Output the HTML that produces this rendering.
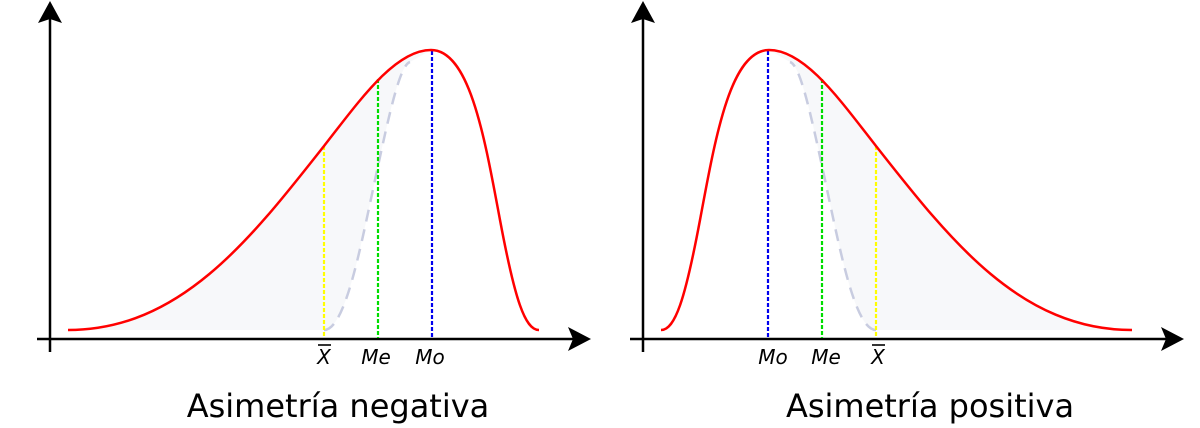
<!DOCTYPE html>
<html><head><style>body{margin:0;background:#fff}svg{display:block}</style></head><body>
<svg width="1200" height="428" viewBox="0 0 1200 428" xmlns="http://www.w3.org/2000/svg" font-family="'DejaVu Sans','Liberation Sans',sans-serif">
<defs>
<g id="curve">
<path d="M68,330 C180,330 250,240 324,146 C360,100 395,50 431,50 L410,62 C400,65 390,110 375,180 C360,250 345,330 324,330 Z" fill="#f7f8fa"/>
<path d="M324,330 C345,330 360,250 375,180 C390,110 400,65 410,62" fill="none" stroke="#c8cce0" stroke-width="2.5" stroke-dasharray="12,8"/>
<line x1="324" y1="146" x2="324" y2="338" stroke="#ffff00" stroke-width="2.2" stroke-dasharray="4,2"/>
<line x1="378" y1="79" x2="378" y2="338" stroke="#00dd00" stroke-width="2.2" stroke-dasharray="4,2"/>
<line x1="432" y1="51" x2="432" y2="338" stroke="#0000ee" stroke-width="2.2" stroke-dasharray="4,2"/>
<path d="M68,330 C180,330 250,240 324,146 C360,100 395,50 431,50 C470,50 485,140 500,220 C515,300 525,330 539,330" fill="none" stroke="#ff0000" stroke-width="2.5"/>
</g>
<g id="axes">
<line x1="50" y1="18" x2="50" y2="352" stroke="#000" stroke-width="2.5"/>
<line x1="37" y1="339" x2="575" y2="339" stroke="#000" stroke-width="2.5"/>
<path d="M50,1 L62,23 L50,19 L38,23 Z" fill="#000"/>
<path d="M591,339 L568,327 L573,339 L568,351 Z" fill="#000"/>
</g>
</defs>
<use href="#axes"/>
<use href="#axes" transform="translate(593,0)"/>
<use href="#curve"/>
<use href="#curve" transform="translate(1200,0) scale(-1,1)"/>
<g font-size="20" font-style="italic" fill="#000" text-anchor="middle">
<text x="324" y="364">X</text><line x1="318" y1="345" x2="331" y2="345" stroke="#000" stroke-width="1.6"/>
<text x="376" y="364">Me</text>
<text x="430" y="364">Mo</text>
<text x="773" y="364">Mo</text>
<text x="826" y="364">Me</text>
<text x="878" y="364">X</text><line x1="872" y1="345" x2="885" y2="345" stroke="#000" stroke-width="1.6"/>
</g>
<g font-size="32" fill="#000" text-anchor="middle">
<text x="338" y="417">Asimetría negativa</text>
<text x="930" y="417">Asimetría positiva</text>
</g>
</svg>
</body></html>
